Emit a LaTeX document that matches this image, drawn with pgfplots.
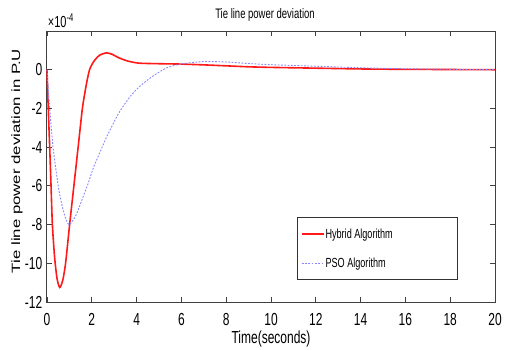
\documentclass[border=0pt]{standalone}
\usepackage{pgfplots}
\pgfplotsset{compat=1.18}
\usepackage{fontspec}
\setmainfont{Liberation Sans}
\newcommand{\vs}[1]{\scalebox{1}[1.45]{#1}}
\definecolor{hyb}{RGB}{255,25,25}
\definecolor{pso}{RGB}{135,135,255}
\begin{document}
\begin{tikzpicture}
\begin{axis}[
  scale only axis, width=448pt, height=271pt,
  xmin=0, xmax=20, ymin=-12, ymax=2,
  xtick={0,2,...,20}, ytick={-12,-10,...,0},
  /pgf/number format/assume math mode=true,
  xticklabel={\vs{\fontsize{12}{14}\selectfont\pgfmathprintnumber{\tick}}},
  yticklabel={\vs{\fontsize{12}{14}\selectfont\pgfmathprintnumber{\tick}}},
  xticklabel style={anchor=north, inner sep=0pt, yshift=-11pt},
  yticklabel style={anchor=east, inner sep=0pt, xshift=-4.5pt},
  axis line style={draw=black!75, line width=1pt},
  major tick style={draw=black!75, line width=0.8pt},
  major tick length=5pt,
  tick align=inside,
  title={\vs{\fontsize{9.5}{11}\selectfont Tie line power deviation}},
  title style={at={(rel axis cs:0.5,1)}, anchor=base, yshift=7pt, xshift=-6pt, inner sep=0pt},
  xlabel={\vs{\fontsize{12}{14}\selectfont Time(seconds)}},
  xlabel style={at={(rel axis cs:0.5,0)}, anchor=center, yshift=-37pt, inner sep=0pt},
  ylabel={\scalebox{1.4}[1]{\fontsize{12}{14}\selectfont Tie line power deviation in P.U}},
  ylabel style={at={(rel axis cs:0,0.5)}, anchor=center, yshift=30pt, xshift=5.5pt, inner sep=0pt},
  legend style={at={(axis cs:11.18,-7.62)}, anchor=north west, draw=black!80, line width=1pt,
    inner xsep=3pt, inner ysep=10pt, row sep=16pt, cells={anchor=west},
    nodes={inner sep=1pt}},
  legend image code/.code={\draw[#1] (0pt,0pt) -- (22pt,0pt);},
  clip=false,
]
\addplot[hyb, line width=1.6pt, smooth, tension=0.4] coordinates {
(0,0) (0.05,-1.8) (0.12,-4) (0.18,-6) (0.24,-8) (0.34,-9.7) (0.45,-10.8) (0.57,-11.25)
(0.7,-10.9) (0.83,-10) (1.01,-8) (1.2,-6) (1.39,-4) (1.58,-2) (1.75,-0.8) (1.9,0)
(2.1,0.45) (2.35,0.75) (2.65,0.87) (2.9,0.8) (3.2,0.62) (3.6,0.45) (4.1,0.34)
(5,0.31) (6,0.29) (7,0.25) (8,0.2) (9,0.15) (10,0.12) (12,0.08) (14,0.04) (16,0.02) (18,0.01) (20,0)
};
\addlegendentry{\makebox[128pt][l]{\vs{\fontsize{9.1}{11}\selectfont Hybrid Algorithm}}}
\addplot[pso, line width=0.9pt, dash pattern=on 1.8pt off 1.5pt, smooth, tension=0.4] coordinates {
(0,0) (0.05,-0.9) (0.12,-2) (0.27,-4) (0.5,-6) (0.67,-7) (0.85,-7.75) (1.01,-8)
(1.3,-7.5) (1.6,-6.6) (1.83,-5.9) (2.06,-5.1) (2.35,-4.3) (2.65,-3.5) (2.95,-2.8)
(3.25,-2.15) (3.7,-1.4) (4.14,-0.86) (4.7,-0.35) (5.33,0.09) (6,0.3) (7,0.42)
(8,0.4) (9,0.32) (10,0.26) (12,0.18) (14,0.1) (16,0.05) (18,0.02) (20,0)
};
\addlegendentry{\makebox[128pt][l]{\vs{\fontsize{9.1}{11}\selectfont PSO Algorithm}}}
\node[anchor=base west, inner sep=0pt] at (rel axis cs:0,1) [yshift=3.5pt, xshift=0.7pt]
  {\vs{\fontsize{11}{13}\selectfont ×10\textsuperscript{-4}}};
\end{axis}
\pgfresetboundingbox
\path[use as bounding box] (-47pt,-47pt) rectangle (458pt,302pt);
\end{tikzpicture}
\end{document}
